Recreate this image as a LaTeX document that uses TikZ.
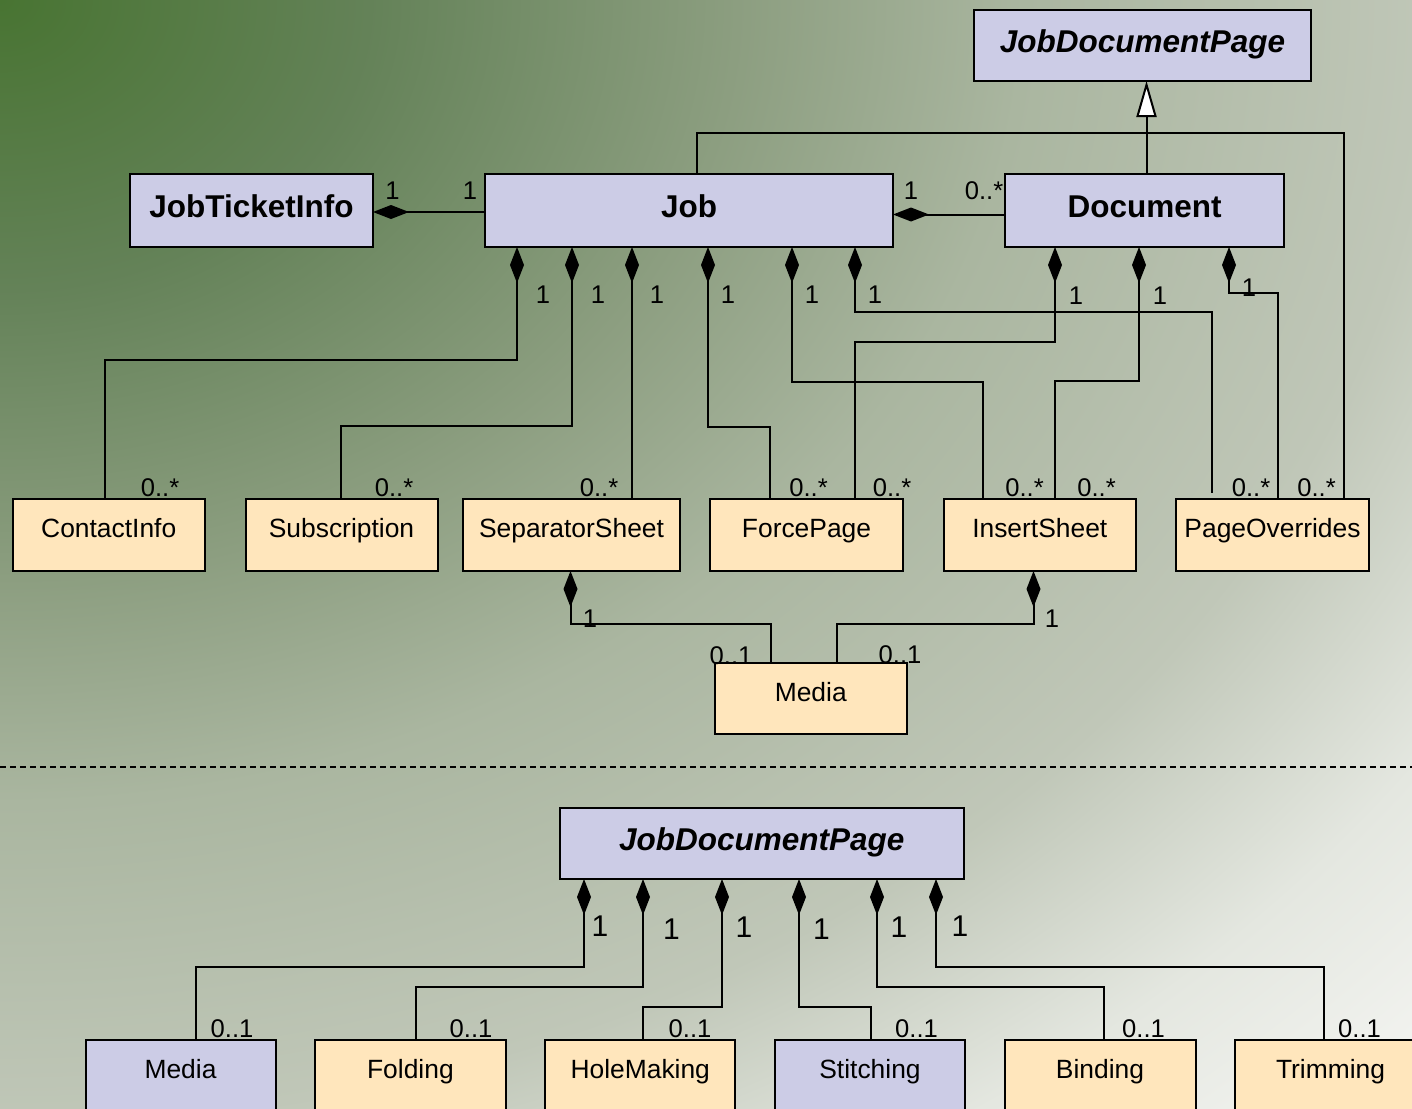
\documentclass[tikz,border=0pt]{standalone}
\usepackage{fontspec}
\setmainfont{Liberation Sans}
\usetikzlibrary{arrows.meta,calc}

\definecolor{clsblue}{RGB}{204,204,230}
\definecolor{partyellow}{RGB}{255,230,188}
\definecolor{bgA}{RGB}{72,116,50}
\definecolor{bgB}{RGB}{100,130,88}
\definecolor{bgC}{RGB}{140,158,128}
\definecolor{bgD}{RGB}{170,182,160}
\definecolor{bgE}{RGB}{192,199,184}
\definecolor{bgF}{RGB}{228,231,224}
\definecolor{bgG}{RGB}{248,248,246}
\pgfdeclareradialshading{bgshade}{\pgfpoint{0bp}{0bp}}{%
  color(0bp)=(bgA); color(4.5bp)=(bgB); color(9bp)=(bgC); color(12.5bp)=(bgD);
  color(17.5bp)=(bgE); color(21bp)=(bgF); color(25bp)=(bgG); color(50bp)=(bgG)}

\tikzset{
  cls/.style={draw, rectangle, line width=1pt, outer sep=0pt, fill=clsblue,
    font=\fontsize{15.75}{18}\selectfont\bfseries,
    text height=12pt, text depth=5.5pt, minimum height=35.5pt},
  abscls/.style={cls, font=\fontsize{15.75}{18}\selectfont\bfseries\itshape},
  part/.style={draw, rectangle, line width=1pt, outer sep=0pt, fill=partyellow,
    font=\fontsize{13.2}{16}\selectfont,
    text height=10pt, text depth=7.5pt, minimum height=35.5pt},
  comp/.style={line width=1pt, {Diamond[length=18pt,width=7pt]}-},
  gen/.style={line width=1pt, -{Triangle[open,fill=white,length=18pt,width=10pt]}},
  assoc/.style={line width=1pt},
  mult/.style={font=\fontsize{12.8}{15}\selectfont, inner sep=0pt},
  multb/.style={font=\fontsize{15}{17}\selectfont, inner sep=0pt},
}

\begin{document}
\begin{tikzpicture}[x=0.5pt, y=-0.5pt]
  \useasboundingbox (0,0) rectangle (1412,1108);
  \clip (0,0) rectangle (1412,1108);
  % Background
  \shade[shading=bgshade] (0,0) ellipse [x radius=1024pt, y radius=803pt];

  % Classes (upper part)
  \node[abscls, minimum width=168.5pt] (jdp) at (1142.5,45.5) {JobDocumentPage};
  \node[cls, minimum width=121.5pt, minimum height=36.5pt] (ticket) at (251.5,210.5) {JobTicketInfo};
  \node[cls, minimum width=204pt, minimum height=36.5pt] (job) at (689,210.5) {Job};
  \node[cls, minimum width=139.5pt, minimum height=36.5pt] (doc) at (1144.5,210.5) {Document};

  \node[part, minimum width=96.25pt, minimum height=36pt] (contact) at (108.75,535) {ContactInfo};
  \node[part, minimum width=96pt, minimum height=36pt] (subscr) at (341.5,535) {Subscription};
  \node[part, minimum width=108.5pt, minimum height=36pt] (sep) at (571.5,535) {SeparatorSheet};
  \node[part, minimum width=96.5pt, minimum height=36pt] (force) at (806.5,535) {ForcePage};
  \node[part, minimum width=96.25pt, minimum height=36pt] (insert) at (1039.75,535) {InsertSheet};
  \node[part, minimum width=96.5pt, minimum height=36pt] (overr) at (1272.5,535) {PageOverrides};
  \node[part, minimum width=96.25pt] (media) at (810.75,698.5) {Media};

  % Connectors (upper part)
  \draw[comp] ($(ticket.east)+(0,1.5)$) -- ($(job.west)+(0,1.5)$);
  \draw[comp] ($(job.east)+(0,4)$) -- ($(doc.west)+(0,4)$);
  \draw[gen] ($(doc.north)+(2,0)$) -- ($(jdp.south)+(4,0)$);
  \draw[assoc] ($(job.north west)+(212,0)$) -- ++(0,-41) -| ($(overr.north west)+(168,0)$);

  \draw[comp] ($(job.south west)+(32,0)$) -- ++(0,113) -| ($(contact.north west)+(92.5,0)$);
  \draw[comp] ($(job.south west)+(87,0)$) -- ++(0,179) -| ($(subscr.north west)+(95.5,0)$);
  \draw[comp] ($(job.south west)+(147,0)$) -- ($(sep.north west)+(169,0)$);
  \draw[comp] ($(job.south west)+(223,0)$) -- ++(0,180) -| ($(force.north west)+(60,0)$);
  \draw[comp] ($(job.south west)+(307,0)$) -- ++(0,135) -| ($(insert.north west)+(39,0)$);
  \draw[comp] ($(job.south west)+(370,0)$) -- ++(0,65) -| ($(overr.north west)+(36,-6)$);

  \draw[comp] ($(doc.south west)+(50,0)$) -- ++(0,95) -| ($(force.north west)+(144.5,0)$);
  \draw[comp] ($(doc.south west)+(134,0)$) -- ++(0,134) -| ($(insert.north west)+(111,0)$);
  \draw[comp] ($(doc.south west)+(224,0)$) -- ++(0,46) -| ($(overr.north west)+(102,0)$);

  \draw[comp] ($(sep.south west)+(107.5,0)$) -- ++(0,53) -| ($(media.north west)+(56.5,0)$);
  \draw[comp] ($(insert.south west)+(90,0)$) -- ++(0,53) -| ($(media.north west)+(122.5,0)$);

  % Multiplicities (upper part)
  \foreach \pos [count=\i] in {{392.5,191},{470,191},{911,191},{543,295},{598,295},{657,295},
      {728,295},{812,295},{875,295},{1076,296},{1160,296},{1249,288},{590,619},{1052,619}}
    \node[mult] (one\i) at (\pos) {1};
  \foreach \pos [count=\i] in {{984,191},{160,487.5},{394,487.5},{599,487.5},{808.5,487.5},
      {892,487.5},{1024.5,487.5},{1096.5,487.5},{1251,487.5},{1316.5,487.5}}
    \node[mult] (many\i) at (\pos) {0..*};
  \node[mult] (opt1) at (731,656) {0..1};
  \node[mult] (opt2) at (900,655) {0..1};

  % Divider
  \coordinate (divL) at (0,767);
  \coordinate (divR) at (1412,767);
  \draw[line width=0.6pt, dash pattern=on 3pt off 2pt] (divL) -- (divR);

  % Classes (lower part)
  \node[abscls, minimum width=201.75pt] (jdp2) at (761.75,843.5) {JobDocumentPage};
  \node[part, fill=clsblue, minimum width=95pt] (bmedia) at (180.5,1075.5) {Media};
  \node[part, minimum width=95.5pt] (folding) at (410.4,1075.5) {Folding};
  \node[part, minimum width=95pt] (hole) at (640.25,1075.5) {HoleMaking};
  \node[part, fill=clsblue, minimum width=95pt] (stitch) at (870,1075.5) {Stitching};
  \node[part, minimum width=95.5pt] (binding) at (1100,1075.5) {Binding};
  \node[part, minimum width=95.5pt] (trim) at (1330.5,1075.5) {Trimming};

  % Connectors (lower part)
  \draw[comp] ($(jdp2.south west)+(24,0)$) -- ++(0,88) -| ($(bmedia.north west)+(110,0)$);
  \draw[comp] ($(jdp2.south west)+(83,0)$) -- ++(0,108) -| ($(folding.north west)+(101.5,0)$);
  \draw[comp] ($(jdp2.south west)+(162,0)$) -- ++(0,128) -| ($(hole.north west)+(98,0)$);
  \draw[comp] ($(jdp2.south west)+(239,0)$) -- ++(0,128) -| ($(stitch.north west)+(96,0)$);
  \draw[comp] ($(jdp2.south west)+(317,0)$) -- ++(0,108) -| ($(binding.north west)+(99,0)$);
  \draw[comp] ($(jdp2.south west)+(376,0)$) -- ++(0,88) -| ($(trim.north west)+(89,0)$);

  % Multiplicities (lower part)
  \foreach \pos [count=\i] in {{600,926},{671.5,929},{744,927.5},{821.5,929},{899,927.5},{960,926}}
    \node[multb] (low\i) at (\pos) {1};
  \foreach \pos [count=\i] in {{232,1029},{471,1029},{690,1029},{916.5,1029},{1143.5,1029},{1359.5,1029}}
    \node[mult] (lowopt\i) at (\pos) {0..1};
\end{tikzpicture}
\end{document}
